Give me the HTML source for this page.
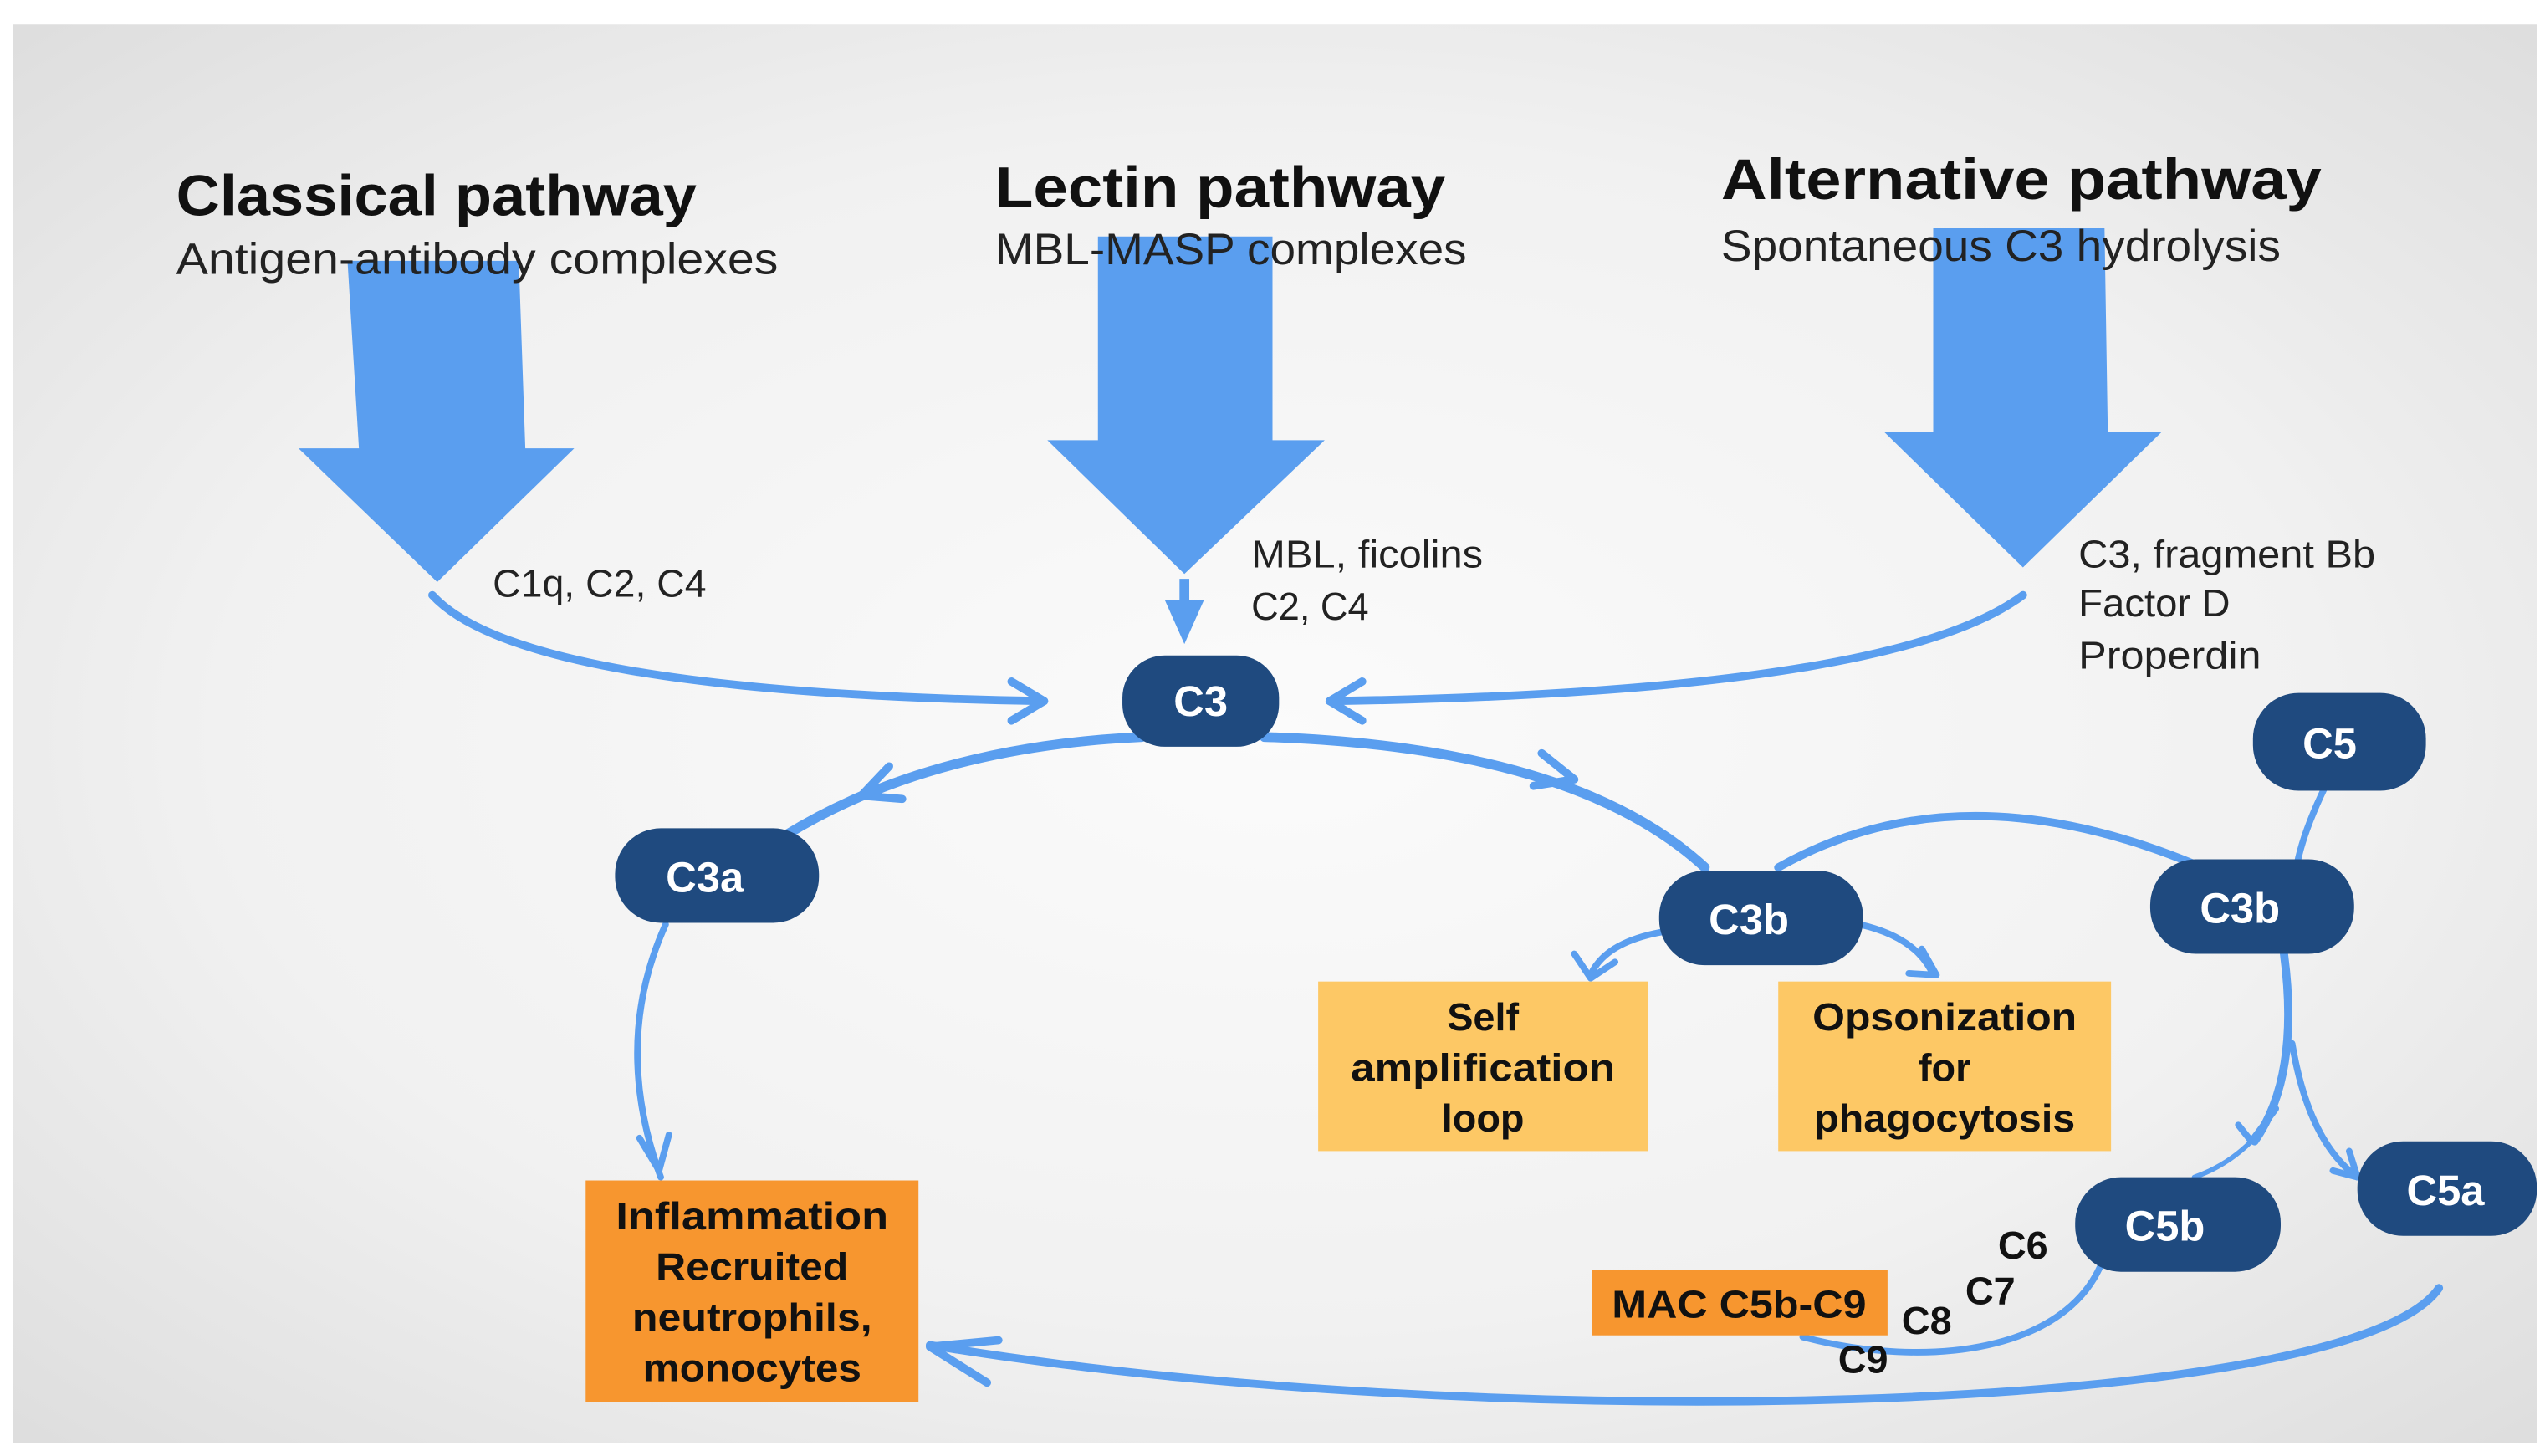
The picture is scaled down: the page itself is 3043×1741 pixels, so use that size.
<!DOCTYPE html>
<html><head><meta charset="utf-8"><style>
html,body{margin:0;padding:0;background:#fff;}
svg{display:block;}
text{font-family:"Liberation Sans",sans-serif;}
</style></head><body>
<svg width="3043" height="1741" viewBox="0 0 1560 893" preserveAspectRatio="none" xmlns="http://www.w3.org/2000/svg">
<defs>
<radialGradient id="bg" cx="0.5" cy="0.5" r="0.7">
<stop offset="0" stop-color="#fbfbfb"/><stop offset="0.6" stop-color="#f1f1f1"/><stop offset="1" stop-color="#dedede"/>
</radialGradient>
</defs>
<rect x="0" y="0" width="1560" height="893" fill="#fff"/>
<rect x="8" y="15" width="1547" height="870" fill="url(#bg)"/>

<g fill="#5a9eef">
<polygon points="213,160 318,160 322,275 352,275 268,357 183,275 220,275"/>
<polygon points="673,145 780,145 780,270 812,270 726,352 642,270 673,270"/>
<polygon points="1185,140 1290,140 1292,265 1325,265 1240,348 1155,265 1185,265"/>
<polygon points="714,368 738,368 726,395"/>
</g>
<rect x="723" y="355" width="6" height="15" fill="#5a9eef"/>

<g fill="#111" lengthAdjust="spacingAndGlyphs">
<text x="108" y="132" font-size="35" font-weight="bold" textLength="319" lengthAdjust="spacingAndGlyphs">Classical pathway</text>
<text x="108" y="168" font-size="27" fill="#222" textLength="369" lengthAdjust="spacingAndGlyphs">Antigen-antibody complexes</text>
<text x="610" y="127" font-size="35" font-weight="bold" textLength="276" lengthAdjust="spacingAndGlyphs">Lectin pathway</text>
<text x="610" y="162" font-size="27" fill="#222" textLength="289" lengthAdjust="spacingAndGlyphs">MBL-MASP complexes</text>
<text x="1055" y="122" font-size="35" font-weight="bold" textLength="368" lengthAdjust="spacingAndGlyphs">Alternative pathway</text>
<text x="1055" y="160" font-size="27" fill="#222" textLength="343" lengthAdjust="spacingAndGlyphs">Spontaneous C3 hydrolysis</text>
<text x="302" y="366" font-size="24" fill="#222" textLength="131" lengthAdjust="spacingAndGlyphs">C1q, C2, C4</text>
<text x="767" y="348" font-size="24" fill="#222" textLength="142" lengthAdjust="spacingAndGlyphs">MBL, ficolins</text>
<text x="767" y="380" font-size="24" fill="#222" textLength="72" lengthAdjust="spacingAndGlyphs">C2, C4</text>
<text x="1274" y="348" font-size="24" fill="#222" textLength="182" lengthAdjust="spacingAndGlyphs">C3, fragment Bb</text>
<text x="1274" y="378" font-size="24" fill="#222" textLength="93" lengthAdjust="spacingAndGlyphs">Factor D</text>
<text x="1274" y="410" font-size="24" fill="#222" textLength="112" lengthAdjust="spacingAndGlyphs">Properdin</text>
</g>

<g fill="none" stroke="#5a9eef" stroke-width="5" stroke-linecap="round" stroke-linejoin="round">
<path d="M265,365 Q320,425 640,430"/>
<path d="M620,418 L640,430 L620,442"/>
<path d="M1240,365 Q1160,425 815,430"/>
<path d="M835,418 L815,430 L835,442"/>
<path d="M700,452 Q570,458 482,512" stroke-width="6"/>
<path d="M545,470 L528,488 L553,490"/>
<path d="M775,452 Q965,458 1045,532" stroke-width="6"/>
<path d="M945,462 L965,478 L940,482"/>
<path d="M1030,570 Q985,575 975,598" stroke-width="4"/>
<path d="M965,585 L975,600 L990,590" stroke-width="4"/>
<path d="M1140,567 Q1175,575 1185,598" stroke-width="4"/>
<path d="M1178,582 L1187,598 L1170,597" stroke-width="4"/>
<path d="M1090,532 Q1200,470 1345,530" stroke-width="5"/>
<path d="M1425,483 Q1412,510 1408,530" stroke-width="4"/>
<path d="M1400,585 Q1410,660 1382,700" stroke-width="5"/>
<path d="M1395,680 L1380,700 L1372,690" stroke-width="4"/>
<path d="M1405,640 Q1415,700 1445,722" stroke-width="4"/>
<path d="M1430,718 L1445,722 L1440,706" stroke-width="4"/>
<path d="M1380,700 Q1365,715 1345,722" stroke-width="3"/>
<path d="M408,567 Q375,640 405,722" stroke-width="4"/>
<path d="M392,698 L404,718 L410,696" stroke-width="4"/>
<path d="M1495,790 C1440,870 900,880 570,825" stroke-width="5"/>
<path d="M612,822 L570,826 L605,848" stroke-width="5"/>
<path d="M1290,770 C1270,830 1180,840 1105,820" stroke-width="4"/>
</g>

<g fill="#1f4a7f">
<rect x="688" y="402" width="96" height="56" rx="26"/>
<rect x="377" y="508" width="125" height="58" rx="28"/>
<rect x="1017" y="534" width="125" height="58" rx="28"/>
<rect x="1318" y="527" width="125" height="58" rx="28"/>
<rect x="1381" y="425" width="106" height="60" rx="28"/>
<rect x="1272" y="722" width="126" height="58" rx="28"/>
<rect x="1445" y="700" width="110" height="58" rx="28"/>
</g>
<g fill="#fff" font-size="26" font-weight="bold" text-anchor="middle">
<text x="736" y="439">C3</text>
<text x="432" y="547">C3a</text>
<text x="1072" y="573">C3b</text>
<text x="1373" y="566">C3b</text>
<text x="1428" y="465">C5</text>
<text x="1327" y="761">C5b</text>
<text x="1499" y="739">C5a</text>
</g>

<rect x="808" y="602" width="202" height="104" fill="#fdc865"/>
<rect x="1090" y="602" width="204" height="104" fill="#fdc865"/>
<rect x="359" y="724" width="204" height="136" fill="#f7962f"/>
<rect x="976" y="779" width="181" height="40" fill="#f7962f"/>
<g fill="#111" font-size="24" font-weight="bold" text-anchor="middle">
<text x="909" y="632">Self</text>
<text x="909" y="663" textLength="162" lengthAdjust="spacingAndGlyphs">amplification</text>
<text x="909" y="694">loop</text>
<text x="1192" y="632" textLength="162" lengthAdjust="spacingAndGlyphs">Opsonization</text>
<text x="1192" y="663">for</text>
<text x="1192" y="694" textLength="160" lengthAdjust="spacingAndGlyphs">phagocytosis</text>
<text x="461" y="754" textLength="167" lengthAdjust="spacingAndGlyphs">Inflammation</text>
<text x="461" y="785" textLength="118" lengthAdjust="spacingAndGlyphs">Recruited</text>
<text x="461" y="816" textLength="147" lengthAdjust="spacingAndGlyphs">neutrophils,</text>
<text x="461" y="847" textLength="134" lengthAdjust="spacingAndGlyphs">monocytes</text>
<text x="1066" y="808" textLength="156" lengthAdjust="spacingAndGlyphs">MAC C5b-C9</text>
<text x="1240" y="772">C6</text>
<text x="1220" y="800">C7</text>
<text x="1181" y="818">C8</text>
<text x="1142" y="842">C9</text>
</g>
</svg>
</body></html>
